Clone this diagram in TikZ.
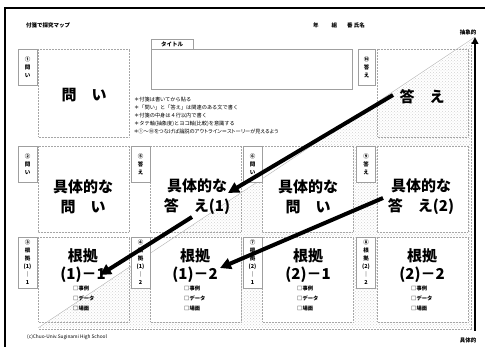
\documentclass[tikz,border=0pt]{standalone}
\usepackage{fontspec}
\setmainfont{Noto Sans CJK JP}
\newfontfamily\jpprop[RawFeature=+palt]{Noto Sans CJK JP}
\usetikzlibrary{arrows.meta,patterns}
\begin{document}
\begin{tikzpicture}[x=1pt,y=-1pt,
  cell/.style={draw=gray!70, densely dotted, line width=0.5pt},
  whitecell/.style={cell, fill=white},
  tabbox/.style={draw=gray!75, fill=white, line width=0.5pt, minimum width=19pt, inner sep=0pt,
     font=\fontsize{5.5}{8}\selectfont\bfseries, align=center},
  big/.style={font=\fontsize{15}{20}\selectfont\bfseries, align=center, inner sep=0pt},
  bigb/.style={font=\fontsize{15}{18}\selectfont\bfseries, align=center, inner sep=0pt},
  chk/.style={font=\fontsize{5.3}{10}\selectfont\bfseries, align=left, inner sep=0pt, anchor=north west},
  note/.style={font=\fontsize{5.2}{8}\selectfont, align=left, inner sep=0pt, anchor=north west},
  lbl/.style={font=\fontsize{5.5}{6}\selectfont\bfseries, inner sep=0pt},
  fat/.style={line width=4pt, -{Triangle[length=11pt,width=11pt]}},
]
\useasboundingbox (0,0) rectangle (485,347);
% frame
\draw[line width=2.5pt] (5,347) -- (5,8) -- (485,8);
% shaded triangle
\fill[pattern=crosshatch dots, pattern color=gray!35] (38,328) -- (470,42) -- (470,328) -- cycle;
\draw[cell] (471,42) -- (471,329) -- (38,329);
% cells
\draw[cell] (38,49) rectangle (129,137);
\draw[cell] (377,49) rectangle (468,137);
\draw[cell] (38,146) rectangle (129,232);
\draw[cell] (150,146) rectangle (241,232);
\draw[whitecell] (262,146) rectangle (353,232);
\draw[whitecell] (377,146) rectangle (468,232);
\draw[cell] (38,237) rectangle (129,322);
\draw[whitecell] (150,237) rectangle (241,322);
\draw[whitecell] (262,237) rectangle (353,322);
\draw[whitecell] (377,237) rectangle (468,322);
% diagonal
\draw[gray!60, line width=0.4pt] (38,328) -- (475,37);
% tabs
\node[tabbox, minimum height=36pt] (t1) at (27.5,67) {①\\問\\い};
\node[tabbox, minimum height=36pt, minimum width=17pt] (t10) at (366.5,67) {⑩\\答\\え};
\node[tabbox, minimum height=36pt] (t2) at (27.5,164) {②\\問\\い};
\node[tabbox, minimum height=36pt] (t5) at (140.5,164) {⑤\\答\\え};
\node[tabbox, minimum height=36pt] (t6) at (252.5,164) {⑥\\問\\い};
\node[tabbox, minimum height=36pt] (t9) at (366,164) {⑨\\答\\え};
\node[tabbox, minimum height=51pt] (t3) at (27.5,262.5) {③\\根\\拠\\(1)\\｜\\1};
\node[tabbox, minimum height=51pt] (t4) at (140.5,262.5) {④\\根\\拠\\(1)\\｜\\2};
\node[tabbox, minimum height=51pt] (t7) at (252.5,262.5) {⑦\\根\\拠\\(2)\\｜\\1};
\node[tabbox, minimum height=51pt] (t8) at (366,262.5) {⑧\\根\\拠\\(2)\\｜\\2};
% title box
\node[draw=gray!75, fill=white, line width=0.5pt, minimum width=201pt, minimum height=40pt, inner sep=0pt] (tbox) at (251.5,69) {};
\node[draw=gray!75, fill=white, line width=0.5pt, minimum width=42pt, minimum height=10pt, inner sep=0pt,
  font=\fontsize{5.5}{6}\selectfont\bfseries] (ttab) at (172,44) {タイトル};
% header
\node[lbl, anchor=west] (hdr) at (26,25) {付箋で探究マップ};
\node[lbl, anchor=west] (name) at (313,25) {年\hspace{13pt}組\hspace{10pt}番 氏名};
% notes
\node[note] (notes) at (134,96.5) {＊付箋は書いてから貼る\\＊「問い」と「答え」は関連のある文で書く\\＊付箋の中身は４行以内で書く\\＊タテ軸(抽象度)とヨコ軸(比較)を意識する\\{\jpprop ＊①～⑩をつなげば論説のアウトライン＝ストーリーが見えるよう}};
% big texts
\node[big] (q1) at (84,95) {問　い};
\node[big] (a10) at (422,97) {答　え};
\node[big] (q2) at (83,197) {具体的な\\問　い};
\node[big] (a5) at (197,197) {具体的な\\答　え(1)};
\node[big] (q6) at (308,197) {具体的な\\問　い};
\node[big] (a9) at (421,197) {具体的な\\答　え(2)};
\node[bigb] (e3) at (83,266) {根拠\\(1)－1};
\node[bigb] (e4) at (195,266) {根拠\\(1)－2};
\node[bigb] (e7) at (308,266) {根拠\\(2)－1};
\node[bigb] (e8) at (422,266) {根拠\\(2)－2};
% checklists
\node[chk] (c3) at (73,286) {□事例\\□データ\\□場面};
\node[chk] (c4) at (184,286) {□事例\\□データ\\□場面};
\node[chk] (c7) at (297,286) {□事例\\□データ\\□場面};
\node[chk] (c8) at (411,286) {□事例\\□データ\\□場面};
% footer and axis labels
\node[font=\fontsize{4.8}{6}\selectfont, inner sep=0pt, anchor=west] (copy) at (27,337) {(c)Chuo-Univ.Suginami High School};
\node[lbl] (abs) at (468,32) {抽象的};
\node[lbl] (con) at (468,340) {具体的};
% vertical axis arrow
\coordinate (vbot) at (475,331);
\coordinate (vtop) at (475,37);
\draw[line width=2.2pt, -{Triangle[length=7pt,width=6.5pt]}] (vbot) -- (vtop);
% thick arrows
\coordinate (s1) at (393,95);
\coordinate (e1) at (228,193);
\coordinate (s2) at (383,198);
\coordinate (e2) at (220,268);
\coordinate (s3) at (192,217);
\coordinate (e3b) at (100,275);
\draw[fat] (s1) -- (e1);
\draw[fat] (s2) -- (e2);
\draw[fat] (s3) -- (e3b);
\end{tikzpicture}
\end{document}
